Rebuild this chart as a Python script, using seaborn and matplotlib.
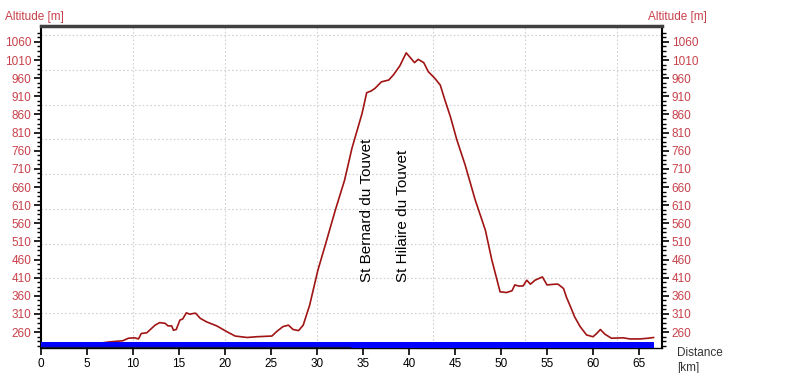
import numpy as np
import pandas as pd
import seaborn as sns
import matplotlib.pyplot as plt
from matplotlib.ticker import FixedLocator

# elevation profile (km, m)
dist = [0, 3, 4.6, 6, 7.5, 8.9, 9.5, 10.2, 10.6, 10.9, 11.5, 12.4, 12.9, 13.5, 13.8,
        14.2, 14.4, 14.7, 15.1, 15.4, 15.8, 16.2, 16.5, 16.8, 17.3, 18.0, 19.1, 20.2,
        21.1, 22.4, 23.4, 25.1, 25.6, 26.3, 26.9, 27.4, 28.0, 28.5, 29.2, 30.1, 30.9,
        32.0, 33.0, 33.8, 34.9, 35.4, 35.9, 36.3, 37.0, 37.8, 38.3, 39.0, 39.7, 40.0,
        40.6, 41.0, 41.6, 42.1, 42.8, 43.4, 43.9, 44.5, 45.2, 46.1, 47.2, 48.3, 49.0,
        49.9, 50.6, 51.2, 51.5, 51.9, 52.4, 52.8, 53.2, 53.7, 54.5, 55.0, 55.9, 56.2,
        56.8, 57.1, 57.7, 58.0, 58.6, 59.3, 60.0, 60.4, 60.8, 61.3, 62.0, 63.3, 64.0,
        65.1, 66.0, 66.6]
alt = [226, 227, 230, 228, 233, 236, 243, 244, 241, 256, 258, 279, 286, 284, 277,
       277, 265, 267, 293, 296, 313, 309, 311, 312, 298, 288, 277, 261,
       249, 245, 247, 249, 261, 275, 279, 267, 264, 279, 334, 431, 500,
       597, 679, 767, 863, 920, 925, 932, 950, 955, 969, 994, 1030, 1021,
       1003, 1012, 1003, 978, 960, 941, 900, 854, 790, 721, 624, 541, 459,
       371, 369, 374, 390, 387, 387, 403, 392, 403, 412, 390, 392, 392,
       380, 357, 321, 302, 275, 252, 247, 256, 267, 254, 243, 244, 241,
       241, 243, 245]

places = ["St Bernard du Touvet", "St Hilaire du Touvet"]
place_km = [35.4, 39.3]

ytick_vals = list(range(260, 1061, 50))
xtick_vals = list(range(0, 66, 5))
xgrid_km = [10, 20, 30, 42.6, 52.6, 62.6]
ygrid_m = [312 + 95.9 * k for k in range(9)]

red = "#c8404a"
df = pd.DataFrame({"dist": dist, "alt": alt})

sns.set_style("white")
plt.rcParams["font.family"] = ["Liberation Sans", "DejaVu Sans"]

fig = plt.figure(figsize=(8, 3.73), dpi=100)
ax = fig.add_axes([41 / 800, 1 - 348 / 373, 621 / 800, 322 / 373])

ymin, ymax = 216, 1104
ax.set_xlim(0, 67.5)
ax.set_ylim(ymin, ymax)

for g in xgrid_km:
    ax.axvline(g, color="#d0d0d0", lw=0.8, ls=(0, (1.5, 2)), zorder=0)
for g in ygrid_m:
    ax.axhline(g, color="#d0d0d0", lw=0.8, ls=(0, (1.5, 2)), zorder=0)

sns.lineplot(data=df, x="dist", y="alt", ax=ax, color="#a01414", lw=1.2, zorder=3)

# blue distance bar along the bottom
ax.fill_between([0, df["dist"].max()], ymin, 233, color="#0000ff", lw=0, zorder=4)
ax.plot([0, 33.6], [ymin + 1.5, ymin + 1.5], color="#101040", lw=1, zorder=5)

for name, km in zip(places, place_km):
    ax.text(km, 398, name, rotation=90, ha="center", va="bottom", fontsize=11,
            color="black", zorder=6)

ax.yaxis.set_major_locator(FixedLocator(ytick_vals))
ax.yaxis.set_minor_locator(FixedLocator([222.5 + 12.5 * k for k in range(70)]))
ax.xaxis.set_major_locator(FixedLocator(xtick_vals))
ax.set_xticklabels([str(v) for v in xtick_vals])
ax.set_yticklabels([str(v) for v in ytick_vals])

ax.tick_params(axis="y", which="major", direction="out", length=5, width=1.2,
               left=True, right=True, labelleft=True, labelright=True,
               labelsize=8.5, labelcolor=red, color="black", pad=2)
ax.tick_params(axis="y", which="minor", direction="out", length=3, width=1,
               left=True, right=True, color="black")
ax.tick_params(axis="x", which="major", direction="out", length=5, width=1.2,
               bottom=True, labelsize=8.5, labelcolor="black", color="black", pad=2)

ax.set_xlabel("")
ax.set_ylabel("")

for side in ["left", "right"]:
    ax.spines[side].set_color("black")
    ax.spines[side].set_linewidth(1.5)
ax.spines["top"].set_color("#404040")
ax.spines["top"].set_linewidth(2.5)
ax.spines["bottom"].set_color("black")
ax.spines["bottom"].set_linewidth(1)

fig.text(5 / 800, 1 - 17 / 373, "Altitude [m]", color=red, fontsize=8.5,
         ha="left", va="center")
fig.text(648 / 800, 1 - 17 / 373, "Altitude [m]", color=red, fontsize=8.5,
         ha="left", va="center")
fig.text(677 / 800, 1 - 353 / 373, "Distance", color="#333333", fontsize=8.5,
         ha="left", va="center")
fig.text(677 / 800, 1 - 368 / 373, "[km]", color="#333333", fontsize=8.5,
         ha="left", va="center")

fig.savefig("out.png", dpi=100)
